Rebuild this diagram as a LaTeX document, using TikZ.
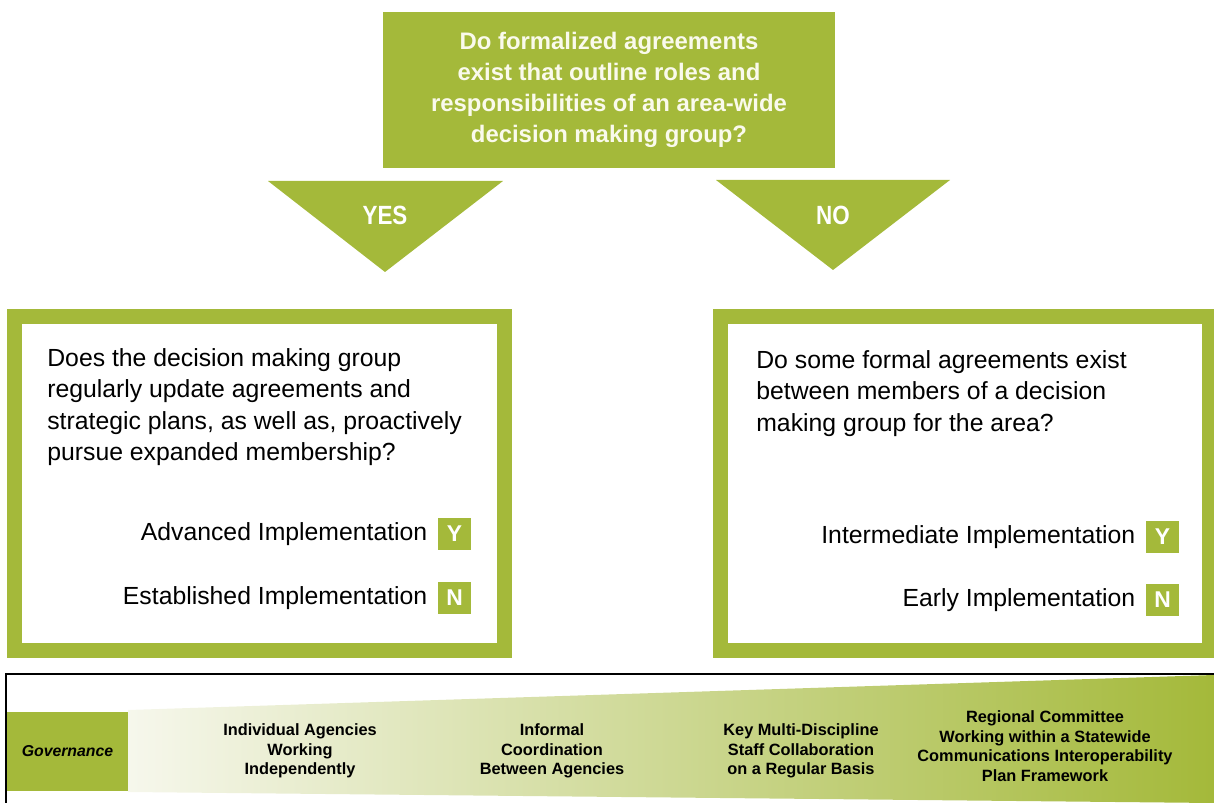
\documentclass[tikz,border=0pt]{standalone}
\usepackage{fontspec}
\setmainfont{Liberation Sans}
\newfontfamily\condfont[FakeStretch=0.85]{Liberation Sans}
\usetikzlibrary{positioning}
\definecolor{leaf}{RGB}{164,185,58}
\definecolor{cream}{RGB}{250,250,236}
\definecolor{paleleaf}{RGB}{246,247,236}

\begin{document}
\begin{tikzpicture}[x=0.02cm,y=-0.02cm,
    qbox/.style={fill=leaf,minimum width=9.04cm,minimum height=3.12cm,inner sep=0,
      text=cream,align=center,font=\bfseries\fontsize{13.6}{17.6}\selectfont},
    pointer/.style={fill=leaf},
    yn/.style={text=white,font=\condfont\bfseries\fontsize{15}{15}\selectfont},
    answerbox/.style={draw=leaf,line width=0.3cm,fill=white,minimum width=9.8cm,minimum height=6.68cm},
    qtext/.style={anchor=north west,inner sep=0,align=left,font=\fontsize{14.1}{17.9}\selectfont},
    ynbox/.style={fill=leaf,minimum size=0.66cm,inner sep=0,text=white,
      font=\bfseries\fontsize{13}{13}\selectfont},
    level/.style={inner sep=0,font=\fontsize{14.1}{17.9}\selectfont},
    stage/.style={align=center,inner sep=0,font=\bfseries\fontsize{9.3}{11.1}\selectfont}]

  \useasboundingbox (0,0) rectangle (1214,803);

  \node[qbox] (q_0) at (609,90) {Do formalized agreements\\exist that outline roles and\\responsibilities of an area-wide\\decision making group?};

  \fill[pointer] (268,181) -- (503,181) -- (385,272) -- cycle;
  \fill[pointer] (716,180) -- (950,180) -- (833,270) -- cycle;
  \node[yn] (yes) at (385,215) {YES};
  \node[yn] (no)  at (833,215) {NO};

  \node[answerbox] (q_yes) at (259.5,483.5) {};
  \node[answerbox] (q_no)  at (965,483.5) {};

  \node[qtext] (q_yes_text) at (47,348) {Does the decision making group\\regularly update agreements and\\strategic plans, as well as, proactively\\pursue expanded membership?};
  \node[qtext] (q_no_text) at (756,350) {Do some formal agreements exist\\between members of a decision\\making group for the area?};

  \node[ynbox] (yes_y) at (454.5,534) {Y};
  \node[ynbox] (yes_n) at (454.5,598) {N};
  \node[ynbox] (no_y)  at (1162.5,537) {Y};
  \node[ynbox] (no_n)  at (1162.5,600) {N};
  \node[level] (advanced)     [left=0.2cm of yes_y] {Advanced Implementation};
  \node[level] (established)  [left=0.2cm of yes_n] {Established Implementation};
  \node[level] (intermediate) [left=0.2cm of no_y]  {Intermediate Implementation};
  \node[level] (early)        [left=0.2cm of no_n]  {Early Implementation};

  \draw[line width=0.6pt] (6,803) -- (6,674) -- (1214,674);
  \shade[left color=paleleaf,right color=leaf] (128,710) -- (1214,675) -- (1214,803) -- (128,792) -- cycle;
  \node[fill=leaf,minimum width=2.42cm,minimum height=1.58cm,inner sep=0,
    font=\bfseries\itshape\fontsize{9}{11}\selectfont] (governance) at (67.5,751.5) {Governance};

  \node[stage] (individual) at (300,751) {Individual Agencies\\Working\\Independently};
  \node[stage] (informal)   at (552,751) {Informal\\Coordination\\Between Agencies};
  \node[stage] (staff)      at (801,751) {Key Multi-Discipline\\Staff Collaboration\\on a Regular Basis};
  \node[stage] (regional)   at (1045,746) {Regional Committee\\Working within a Statewide\\Communications Interoperability\\Plan Framework};
\end{tikzpicture}
\end{document}
